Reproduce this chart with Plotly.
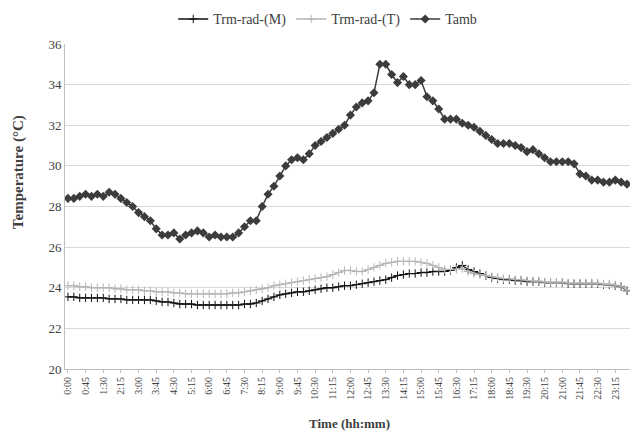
import plotly.graph_objects as go

times = [f"{h}:{m:02d}" for h in range(24) for m in (0, 15, 30, 45)]
tick_labels = times[::3]

t_amb = [28.4, 28.4, 28.5, 28.6, 28.5, 28.6, 28.5, 28.7, 28.6, 28.4,
         28.2, 28.0, 27.7, 27.5, 27.3, 26.9, 26.6, 26.6, 26.7, 26.4,
         26.6, 26.7, 26.8, 26.7, 26.5, 26.6, 26.5, 26.5, 26.5, 26.7,
         27.0, 27.3, 27.3, 28.0, 28.6, 29.0, 29.5, 30.0, 30.3, 30.4,
         30.3, 30.6, 31.0, 31.2, 31.4, 31.6, 31.8, 32.0, 32.5, 32.9,
         33.1, 33.2, 33.6, 35.0, 35.0, 34.5, 34.1, 34.4, 34.0, 34.0,
         34.2, 33.4, 33.2, 32.8, 32.3, 32.3, 32.3, 32.1, 32.0, 31.9,
         31.7, 31.5, 31.3, 31.1, 31.1, 31.1, 31.0, 30.9, 30.7, 30.8,
         30.6, 30.4, 30.2, 30.2, 30.2, 30.2, 30.1, 29.6, 29.5, 29.3,
         29.3, 29.2, 29.2, 29.3, 29.2, 29.1]

trm_m = [23.55, 23.55, 23.5, 23.5, 23.5, 23.5, 23.5, 23.45, 23.45, 23.45,
         23.4, 23.4, 23.4, 23.4, 23.4, 23.35, 23.3, 23.3, 23.25, 23.2,
         23.2, 23.2, 23.15, 23.15, 23.15, 23.15, 23.15, 23.15, 23.15, 23.15,
         23.2, 23.2, 23.25, 23.35, 23.45, 23.55, 23.65, 23.7, 23.75, 23.8,
         23.8, 23.85, 23.9, 23.95, 24.0, 24.0, 24.05, 24.1, 24.1, 24.15,
         24.2, 24.25, 24.3, 24.35, 24.4, 24.5, 24.6, 24.65, 24.7, 24.7,
         24.75, 24.75, 24.8, 24.8, 24.8, 24.85, 25.0, 25.1, 24.9, 24.8,
         24.7, 24.6, 24.5, 24.45, 24.4, 24.4, 24.35, 24.35, 24.3, 24.3,
         24.3, 24.25, 24.25, 24.25, 24.25, 24.2, 24.2, 24.2, 24.2, 24.2,
         24.2, 24.15, 24.15, 24.1, 24.05, 23.85]

trm_t = [24.1, 24.1, 24.05, 24.05, 24.0, 24.0, 24.0, 24.0, 23.95, 23.95,
         23.9, 23.9, 23.9, 23.85, 23.85, 23.8, 23.8, 23.8, 23.75, 23.75,
         23.7, 23.7, 23.7, 23.7, 23.7, 23.7, 23.7, 23.7, 23.75, 23.75,
         23.8, 23.85, 23.9, 23.95, 24.0, 24.1, 24.15, 24.2, 24.25, 24.3,
         24.35, 24.4, 24.45, 24.5, 24.55, 24.65, 24.75, 24.85, 24.85, 24.8,
         24.8, 24.9, 25.0, 25.1, 25.2, 25.25, 25.3, 25.3, 25.3, 25.3,
         25.25, 25.2, 25.1, 25.0, 24.9, 24.9, 24.9, 24.95, 24.8, 24.7,
         24.65, 24.6, 24.55, 24.5, 24.45, 24.45, 24.4, 24.4, 24.35, 24.33,
         24.33, 24.28, 24.28, 24.28, 24.28, 24.23, 24.23, 24.23, 24.23, 24.23,
         24.23, 24.18, 24.18, 24.13, 24.08, 23.88]

SERIF = "Times New Roman, Liberation Serif, serif"

fig = go.Figure()
fig.add_trace(go.Scatter(
    x=times, y=trm_m, name="Trm-rad-(M)", mode="lines+markers",
    line=dict(color="#111111", width=1.3),
    marker=dict(symbol="cross-thin", size=6, line=dict(color="#111111", width=1))))
fig.add_trace(go.Scatter(
    x=times, y=trm_t, name="Trm-rad-(T)", mode="lines+markers",
    line=dict(color="#b5b5b5", width=1.3),
    marker=dict(symbol="cross-thin", size=6, line=dict(color="#b5b5b5", width=1))))
fig.add_trace(go.Scatter(
    x=times, y=t_amb, name="Tamb", mode="lines+markers",
    line=dict(color="#3c3c3c", width=1.5),
    marker=dict(symbol="diamond", size=7, color="#3c3c3c")))

fig.update_layout(
    width=633, height=432,
    margin=dict(l=65, r=3, t=44, b=63),
    paper_bgcolor="white", plot_bgcolor="white",
    font=dict(family=SERIF, color="#404040"),
    showlegend=True,
    legend=dict(orientation="h", x=0.465, xanchor="center", y=1.125, yanchor="top",
                font=dict(family=SERIF, size=14, color="#404040"), itemwidth=30, tracegroupgap=0),
    xaxis=dict(type="category", range=[-0.5, 95.5], automargin=False,
               tickmode="array", tickvals=tick_labels, ticktext=tick_labels,
               tickangle=-90, tickfont=dict(family=SERIF, size=10, color="#404040"),
               showgrid=False, showline=True, linecolor="#bfbfbf", linewidth=1,
               ticks="outside", ticklen=3, tickcolor="#bfbfbf"),
    yaxis=dict(range=[20, 36], dtick=2, automargin=False,
               tickfont=dict(family=SERIF, size=13, color="#404040"),
               showgrid=True, gridcolor="#d9d9d9", gridwidth=1,
               showline=True, linecolor="#bfbfbf", linewidth=1, zeroline=False,
               ticks=""),
    annotations=[
        dict(text="<b>Temperature (°C)</b>", xref="paper", yref="paper",
             x=-0.083, y=0.606, xanchor="center", yanchor="middle", textangle=-90,
             showarrow=False, font=dict(family=SERIF, size=15, color="#404040")),
        dict(text="<b>Time (hh:mm)</b>", xref="paper", yref="paper",
             x=0.504, y=-0.169, xanchor="center", yanchor="middle",
             showarrow=False, font=dict(family=SERIF, size=13, color="#404040")),
    ],
)

fig.write_html("out.html", config={"displayModeBar": False},
               post_script="document.body.style.margin='0';")
